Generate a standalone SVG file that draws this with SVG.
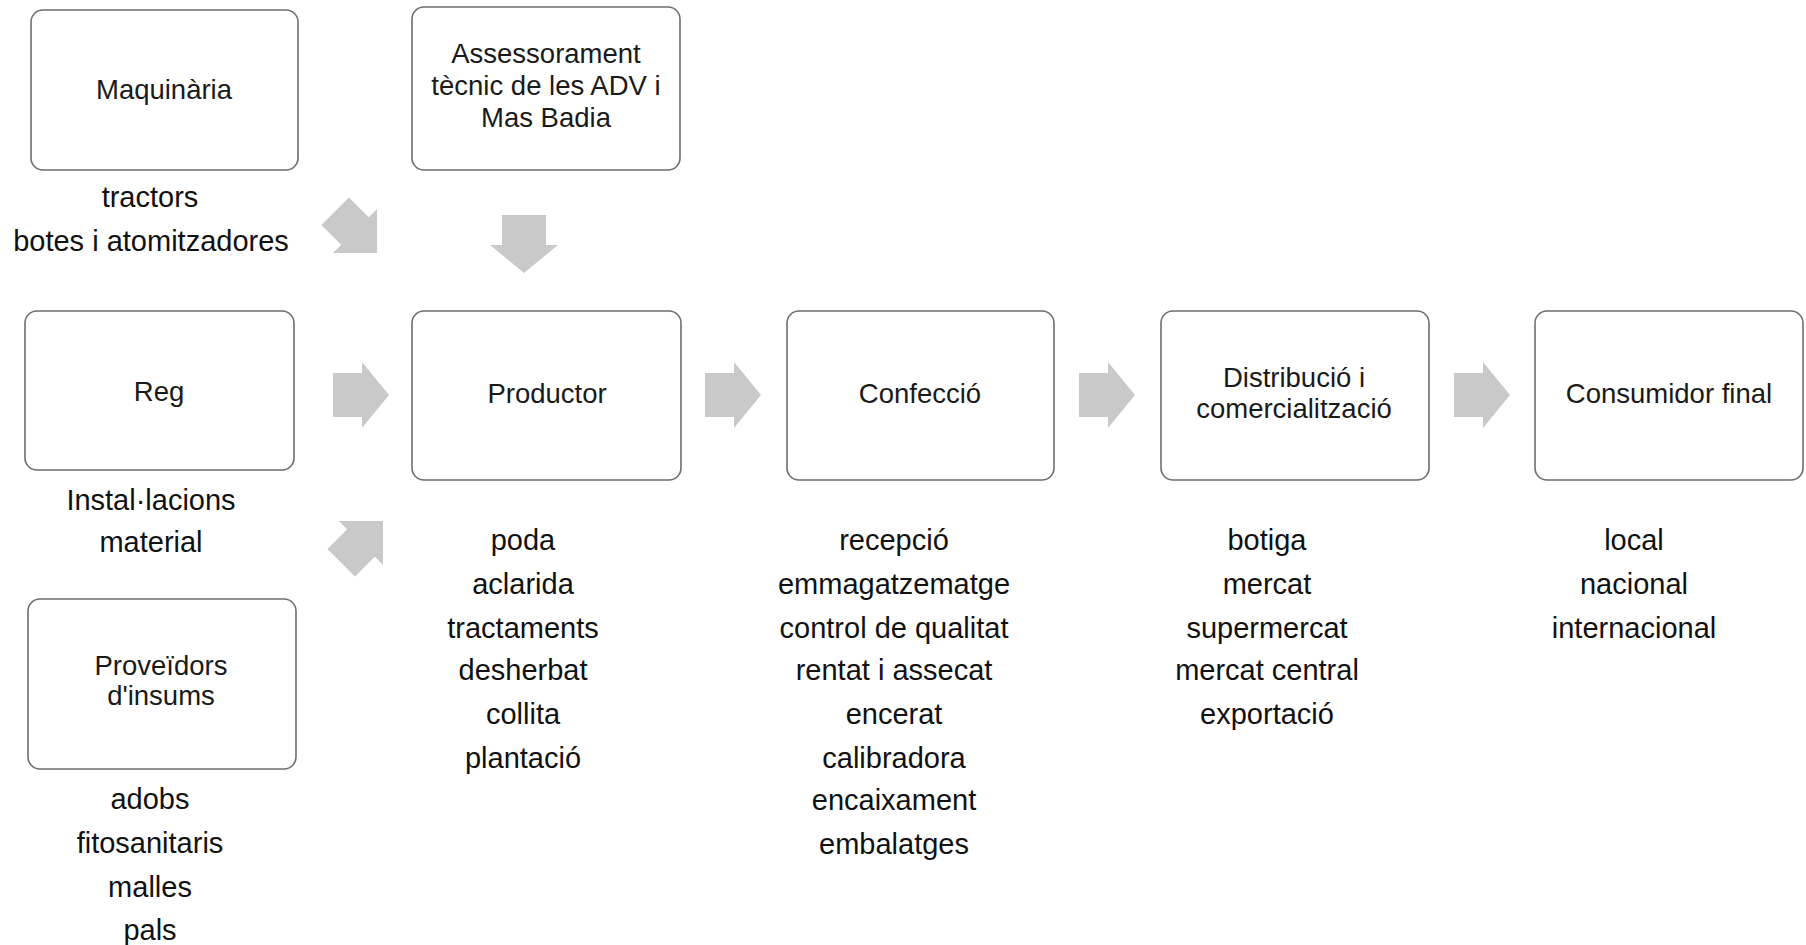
<svg xmlns="http://www.w3.org/2000/svg" width="1806" height="945" viewBox="0 0 1806 945">
<style>
.box{fill:#ffffff;stroke:#6e6e6e;stroke-width:1.6}
.lbl{font-family:"Liberation Sans",Arial,sans-serif;font-size:27.5px;fill:#1a1a1a;text-anchor:middle}
.lst{font-family:"Liberation Sans",Arial,sans-serif;font-size:29px;fill:#111111;text-anchor:middle}
.arr{fill:#c9c9c9}
</style>
<defs>
<path id="rarr" d="M0,-22 H29 V-33 L56,0 L29,33 V22 H0 Z"/>
</defs>
<rect width="1806" height="945" fill="#ffffff"/>
<g id="connectors">
<use href="#rarr" class="arr" x="333" y="395"/>
<use href="#rarr" class="arr" x="705" y="395"/>
<use href="#rarr" class="arr" x="1079" y="395"/>
<use href="#rarr" class="arr" x="1454" y="395"/>
<path class="arr" d="M502,215 H546 V245 H558 L524,273 L490,245 H502 Z"/>
<path class="arr" d="M349,197.4 L368.8,217.2 L377,209 L377,253 L333,253 L341.2,244.8 L321.4,225 Z"/>
<path class="arr" d="M327.4,549 L347.2,529.2 L339,521 L383,521 L383,565 L374.8,556.8 L355,576.6 Z"/>
</g>
<g id="maquinaria">
<rect class="box" x="31" y="10" width="267" height="160" rx="12"/>
<text class="lbl" x="164" y="99">Maquinària</text>
<text class="lst" x="150" y="207">tractors</text>
<text class="lst" x="151" y="251">botes i atomitzadores</text>
</g>
<g id="assessorament">
<rect class="box" x="412" y="7" width="268" height="163" rx="12"/>
<text class="lbl" x="546" y="63">Assessorament</text>
<text class="lbl" x="546" y="95">tècnic de les ADV i</text>
<text class="lbl" x="546" y="127">Mas Badia</text>
</g>
<g id="reg">
<rect class="box" x="25" y="311" width="269" height="159" rx="12"/>
<text class="lbl" x="159" y="401">Reg</text>
<text class="lst" x="151" y="510">Instal·lacions</text>
<text class="lst" x="151" y="552">material</text>
</g>
<g id="proveidors">
<rect class="box" x="28" y="599" width="268" height="170" rx="12"/>
<text class="lbl" x="161" y="675">Proveïdors</text>
<text class="lbl" x="161" y="705">d'insums</text>
<text class="lst" x="150" y="809">adobs</text>
<text class="lst" x="150" y="853">fitosanitaris</text>
<text class="lst" x="150" y="897">malles</text>
<text class="lst" x="150" y="940">pals</text>
</g>
<g id="productor">
<rect class="box" x="412" y="311" width="269" height="169" rx="12"/>
<text class="lbl" x="547" y="403">Productor</text>
<text class="lst" x="523" y="550">poda</text>
<text class="lst" x="523" y="594">aclarida</text>
<text class="lst" x="523" y="638">tractaments</text>
<text class="lst" x="523" y="680">desherbat</text>
<text class="lst" x="523" y="724">collita</text>
<text class="lst" x="523" y="768">plantació</text>
</g>
<g id="confeccio">
<rect class="box" x="787" y="311" width="267" height="169" rx="12"/>
<text class="lbl" x="920" y="403">Confecció</text>
<text class="lst" x="894" y="550">recepció</text>
<text class="lst" x="894" y="594">emmagatzematge</text>
<text class="lst" x="894" y="638">control de qualitat</text>
<text class="lst" x="894" y="680">rentat i assecat</text>
<text class="lst" x="894" y="724">encerat</text>
<text class="lst" x="894" y="768">calibradora</text>
<text class="lst" x="894" y="810">encaixament</text>
<text class="lst" x="894" y="854">embalatges</text>
</g>
<g id="distribucio">
<rect class="box" x="1161" y="311" width="268" height="169" rx="12"/>
<text class="lbl" x="1294" y="387">Distribució i</text>
<text class="lbl" x="1294" y="418">comercialització</text>
<text class="lst" x="1267" y="550">botiga</text>
<text class="lst" x="1267" y="594">mercat</text>
<text class="lst" x="1267" y="638">supermercat</text>
<text class="lst" x="1267" y="680">mercat central</text>
<text class="lst" x="1267" y="724">exportació</text>
</g>
<g id="consumidor">
<rect class="box" x="1535" y="311" width="268" height="169" rx="12"/>
<text class="lbl" x="1669" y="403">Consumidor final</text>
<text class="lst" x="1634" y="550">local</text>
<text class="lst" x="1634" y="594">nacional</text>
<text class="lst" x="1634" y="638">internacional</text>
</g>
</svg>
